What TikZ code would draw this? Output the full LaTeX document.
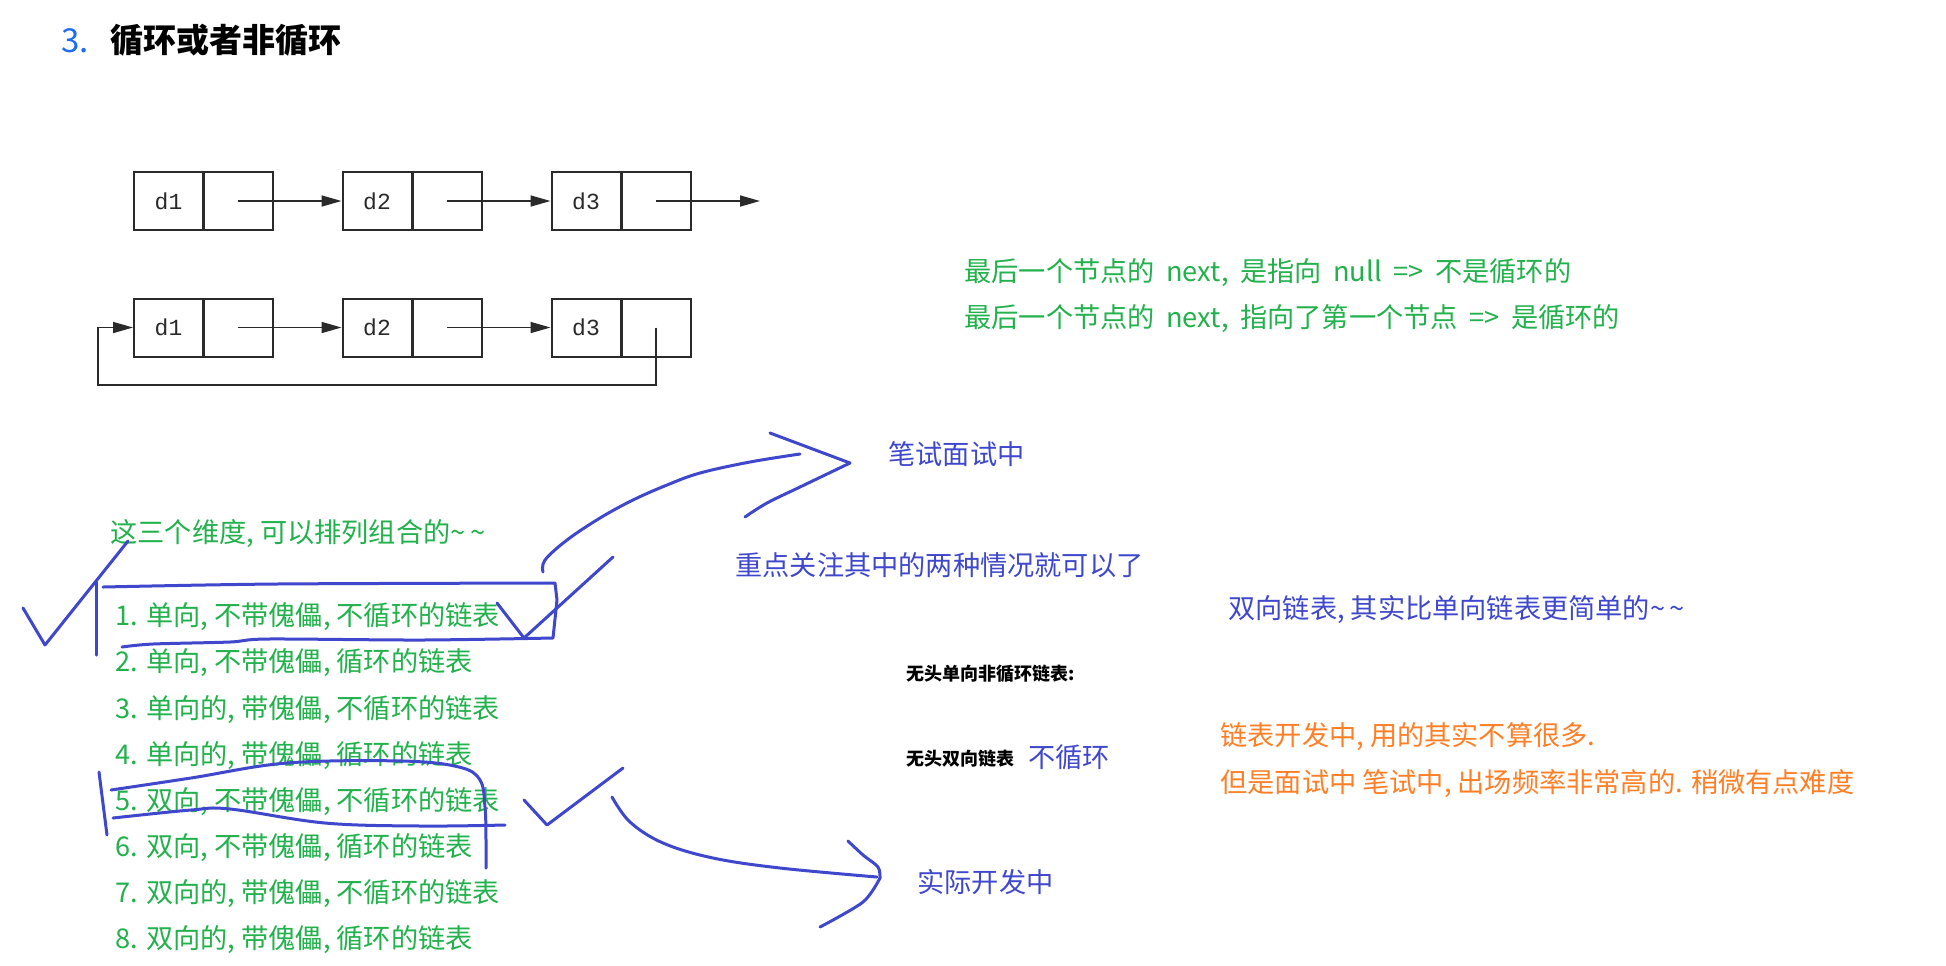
\documentclass[tikz,border=0pt]{standalone}
\usepackage{fontspec}
\setmainfont{Noto Sans CJK SC}
\newfontfamily\widefnt{Noto Sans CJK SC}[WordSpace=1.9]
\newfontfamily\monofnt{Liberation Mono}
\usetikzlibrary{arrows.meta}
\definecolor{pgreen}{HTML}{22B14C}
\definecolor{pblue}{HTML}{3F48CC}
\definecolor{porange}{HTML}{FF7F27}
\definecolor{tblue}{HTML}{1E6AF0}
\definecolor{ink}{HTML}{2A2A2A}
\begin{document}
\begin{tikzpicture}[x=0.5pt,y=-0.5pt,
  txt/.style={anchor=west,inner sep=0pt,text height=0.88em,text depth=0.12em,font=\fontsize{13.6}{16}\selectfont},
  gtxt/.style={txt,text=pgreen},
  wtxt/.style={txt,text=pgreen,font=\widefnt\fontsize{13.6}{16}\selectfont},
  btxt/.style={txt,text=pblue},
  otxt/.style={txt,text=porange},
  ktxt/.style={txt,text=black,font=\fontsize{9}{11}\selectfont\bfseries},
  cell/.style={draw=ink,line width=1pt,minimum width=34.5pt,minimum height=29pt,inner sep=0pt,font=\monofnt\fontsize{11.5}{13}\selectfont,text=ink},
  arr/.style={draw=ink,line width=0.8pt,-{Triangle[length=10pt,width=5.5pt]}},
  hand/.style={draw=pblue,line width=1.5pt,line cap=round,line join=round}
]
\path[fill=white] (0,0) rectangle (1946,965);
\useasboundingbox (0,0) rectangle (1946,965);

% title
\node[txt,text=tblue,font=\fontsize{16.5}{19}\selectfont] (t3) at (61,45) {3.};
\node[txt,text=black,font=\fontsize{16.5}{19}\selectfont\bfseries] (title) at (110,45) {循环或者非循环};

% linked list row 1
\node[cell] (a1) at (168.5,201) {d1};
\node[cell] (a1p) at (238,201) {};
\node[cell] (b1) at (377,201) {d2};
\node[cell] (b1p) at (447,201) {};
\node[cell] (c1) at (586,201) {d3};
\node[cell] (c1p) at (656,201) {};
\coordinate (end1) at (760,201);
\draw[arr] (a1p.center) -- (b1.west);
\draw[arr] (b1p.center) -- (c1.west);
\draw[arr] (c1p.center) -- (end1);

% linked list row 2
\node[cell] (a2) at (168.5,327.5) {d1};
\node[cell] (a2p) at (238,327.5) {};
\node[cell] (b2) at (377,327.5) {d2};
\node[cell] (b2p) at (447,327.5) {};
\node[cell] (c2) at (586,327.5) {d3};
\node[cell] (c2p) at (656,327.5) {};
\coordinate (lb) at (98,385);
\draw[arr] (a2p.center) -- (b2.west);
\draw[arr] (b2p.center) -- (c2.west);
\draw[arr] (c2p.center) |- (lb) |- (a2.west);

% green notes
\node[wtxt] (g1) at (964,274) {最后一个节点的 next, 是指向 null => 不是循环的};
\node[wtxt] (g2) at (964,320) {最后一个节点的 next, 指向了第一个节点 => 是循环的};
\node[gtxt] (g3) at (110,535) {这三个维度, 可以排列组合的\textasciitilde\,\textasciitilde};

% list
\node[gtxt] (i1) at (115,618) {1. 单向, 不带傀儡, 不循环的链表};
\node[gtxt] (i2) at (115,664) {2. 单向, 不带傀儡, 循环的链表};
\node[gtxt] (i3) at (115,710.5) {3. 单向的, 带傀儡, 不循环的链表};
\node[gtxt] (i4) at (115,756.5) {4. 单向的, 带傀儡, 循环的链表};
\node[gtxt] (i5) at (115,803) {5. 双向, 不带傀儡, 不循环的链表};
\node[gtxt] (i6) at (115,849) {6. 双向, 不带傀儡, 循环的链表};
\node[gtxt] (i7) at (115,895) {7. 双向的, 带傀儡, 不循环的链表};
\node[gtxt] (i8) at (115,941) {8. 双向的, 带傀儡, 循环的链表};

% blue notes
\node[btxt] (n1) at (888,457) {笔试面试中};
\node[btxt] (n2) at (735,568) {重点关注其中的两种情况就可以了};
\node[btxt] (n3) at (1228,611) {双向链表, 其实比单向链表更简单的\textasciitilde\,\textasciitilde};
\node[ktxt] (k1) at (906,673) {无头单向非循环链表:};
\node[ktxt] (k2) at (906,758) {无头双向链表};
\node[btxt] (n4) at (1028,760) {不循环};
\node[btxt] (n5) at (917,885) {实际开发中};

% orange notes
\node[otxt] (o1) at (1220,738) {链表开发中, 用的其实不算很多.};
\node[otxt] (o2) at (1220,785) {但是面试中 笔试中, 出场频率非常高的. 稍微有点难度};

% hand-drawn marks
\draw[hand] (23,608) -- (45,645) -- (128,541);
\draw[hand] (96,582) -- (96,655);
\draw[hand] plot[smooth,tension=0.5] coordinates {(103,587) (276,584) (555,583)}
  -- (557,600) -- (553,638)
  plot[smooth,tension=0.5] coordinates {(553,638) (421,640) (268,639) (230,642) (153,644) (122,647)};
\draw[hand] (497,603) -- (524,638) -- (613,557);
\draw[hand] plot[smooth,tension=0.6] coordinates {(543,572) (545,560) (567,540) (600,518) (633,500) (667,485) (700,473) (750,462) (800,454)};
\draw[hand] (770,433) -- (850,463);
\draw[hand] plot[smooth,tension=0.6] coordinates {(850,463) (800,487) (767,503) (745,517)};

\draw[hand] (99,772) -- (107,835);
\draw[hand] plot[smooth,tension=0.6] coordinates {(111,790) (191,778) (287,763) (402,761) (459,767) (480,780) (485,807) (486,840) (486,868)};
\draw[hand] plot[smooth,tension=0.6] coordinates {(113,818) (191,810) (230,809) (325,823) (421,826) (505,825)};
\draw[hand] (524,800) -- (547,825) -- (623,768);
\draw[hand] plot[smooth,tension=0.6] coordinates {(612,797) (630,822) (663,843) (713,858) (780,868) (877,877)};
\draw[hand] plot[smooth,tension=0.5] coordinates {(848,841) (863,855) (878,867) (880,878)};
\draw[hand] plot[smooth,tension=0.5] coordinates {(880,878) (863,902) (820,927)};
\end{tikzpicture}
\end{document}
